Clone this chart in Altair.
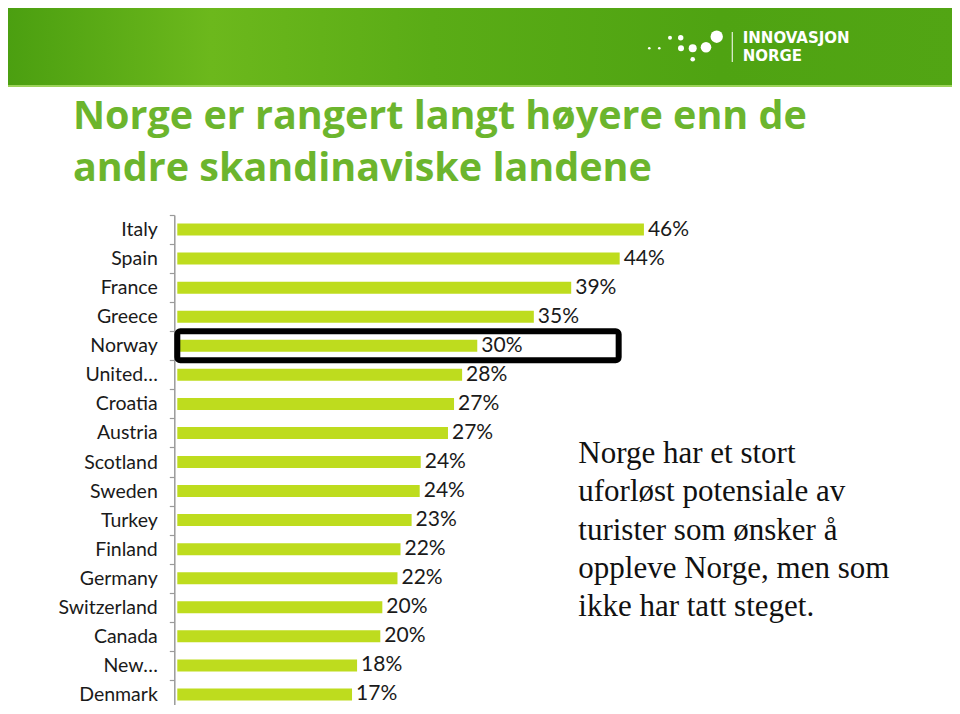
import altair as alt
import pandas as pd

# ---- data ----
countries = ["Italy", "Spain", "France", "Greece", "Norway", "United…", "Croatia",
             "Austria", "Scotland", "Sweden", "Turkey", "Finland", "Germany",
             "Switzerland", "Canada", "New…", "Denmark"]
values = [46.2, 43.8, 39.0, 35.3, 29.7, 28.2, 27.4, 26.8, 24.1, 24.0, 23.2,
          22.1, 21.8, 20.3, 20.1, 17.8, 17.3]
labels = ["46%", "44%", "39%", "35%", "30%", "28%", "27%", "27%", "24%", "24%",
          "23%", "22%", "22%", "20%", "20%", "18%", "17%"]

highlight_country = ["Norway"]
highlight_extent = [43.7]

title_lines = ["Norge er rangert langt høyere enn de", "andre skandinaviske landene"]
note_lines = ["Norge har et stort", "uforløst potensiale av", "turister som ønsker å",
              "oppleve Norge, men som", "ikke har tatt steget."]
logo_lines = ["INNOVASJON", "NORGE"]

# plot-area origin on page; decorations are placed relative to it
OX, OY = 177.3, 215.0
logo_dot_x = [649.3, 659.3, 670.0, 680.7, 681.0, 692.7, 692.7, 706.0, 716.7]
logo_dot_y = [48.3, 48.3, 37.7, 37.7, 48.3, 48.3, 59.3, 47.3, 36.7]
logo_dot_r = [1.3, 1.3, 2.0, 2.7, 3.0, 4.0, 2.3, 5.3, 6.2]

df = pd.DataFrame({"country": countries, "value": values, "label": labels})
box_df = pd.DataFrame({"country": highlight_country, "x0": [0], "x1": highlight_extent})
one = pd.DataFrame({"d": [0]})

BAR = "#bedc1e"
GREEN_TITLE = "#6cb52d"

y_enc = alt.Y(
    "country:N",
    sort=countries,
    title=None,
    scale=alt.Scale(range=[0, 494], paddingInner=0, paddingOuter=0),
    axis=alt.Axis(
        labelFont="Lato", labelFontSize=19.5, labelColor="#1a1a1a",
        labelPadding=12, tickBand="extent", tickSize=5, tickColor="#9a9a9a",
        domainColor="#9a9a9a", domainWidth=1.5, tickWidth=1.2, offset=3,
        grid=False, labelLimit=200,
    ),
)
x_scale = alt.Scale(domain=[0, 50])

bars = alt.Chart(df).mark_bar(size=12, color=BAR).encode(
    y=y_enc,
    x=alt.X("value:Q", scale=x_scale, axis=None),
)

vals = alt.Chart(df).mark_text(
    align="left", baseline="middle", dx=4, dy=0, font="Lato", fontSize=21, color="#1a1a1a"
).encode(
    y=alt.Y("country:N", sort=countries),
    x=alt.X("value:Q", scale=x_scale, axis=None),
    text="label:N",
)

box = alt.Chart(box_df).mark_rect(
    fillOpacity=0, stroke="black", strokeWidth=6, cornerRadius=3
).encode(
    y=alt.Y("country:N", sort=countries),
    x=alt.X("x0:Q", scale=x_scale, axis=None),
    x2="x1:Q",
)

banner = alt.Chart(one).mark_rect(
    fill=alt.LinearGradient(
        gradient="linear", x1=0, x2=1, y1=0, y2=0,
        stops=[
            alt.GradientStop(color="#4a9e10", offset=0.0),
            alt.GradientStop(color="#6cb81c", offset=0.22),
            alt.GradientStop(color="#5aac16", offset=0.45),
            alt.GradientStop(color="#4fa312", offset=0.75),
            alt.GradientStop(color="#52a514", offset=1.0),
        ],
    )
).encode(
    x=alt.value(-OX), x2=alt.value(960 - OX),
    y=alt.value(-OY), y2=alt.value(86 - OY),
)
banner_edge = alt.Chart(one).mark_rect(color="#9dd35a").encode(
    x=alt.value(-OX), x2=alt.value(960 - OX),
    y=alt.value(85 - OY), y2=alt.value(87 - OY),
)

dots = [
    alt.Chart(one).mark_circle(color="white", opacity=1, size=4 * r * r).encode(
        x=alt.value(px - OX), y=alt.value(py - OY)
    )
    for px, py, r in zip(logo_dot_x, logo_dot_y, logo_dot_r)
]
logo_bar = alt.Chart(one).mark_rule(color="white", strokeWidth=1.2, opacity=0.85).encode(
    x=alt.value(732.3 - OX), y=alt.value(32 - OY), y2=alt.value(62 - OY)
)
logo_text = alt.Chart(one).mark_text(
    text=logo_lines, align="left", baseline="alphabetic", font="DejaVu Sans",
    fontWeight="bold", fontSize=15, lineHeight=17.7, color="white",
).encode(x=alt.value(742.7 - OX), y=alt.value(43.3 - OY))

title = alt.Chart(one).mark_text(
    text=title_lines, align="left", baseline="alphabetic", font="Open Sans",
    fontWeight="bold", fontSize=39.5, lineHeight=51.7, color=GREEN_TITLE,
).encode(x=alt.value(73 - OX), y=alt.value(129 - OY))

note = alt.Chart(one).mark_text(
    text=note_lines, align="left", baseline="alphabetic", font="Liberation Serif",
    fontSize=31, lineHeight=38.2, color="#111111",
).encode(x=alt.value(578.3 - OX), y=alt.value(463.3 - OY))

chart = alt.layer(
    banner, banner_edge, *dots, logo_bar, logo_text, title, note, bars, vals, box
).properties(
    width=505, height=490,
    padding={"left": OX - 8, "top": OY - 8, "right": 944 - (OX - 8) - 505, "bottom": 0},
    autosize=alt.AutoSizeParams(type="none"),
    background="white",
).configure_view(stroke=None)

chart.save("out.html", embed_options={"renderer": "svg", "actions": False})
